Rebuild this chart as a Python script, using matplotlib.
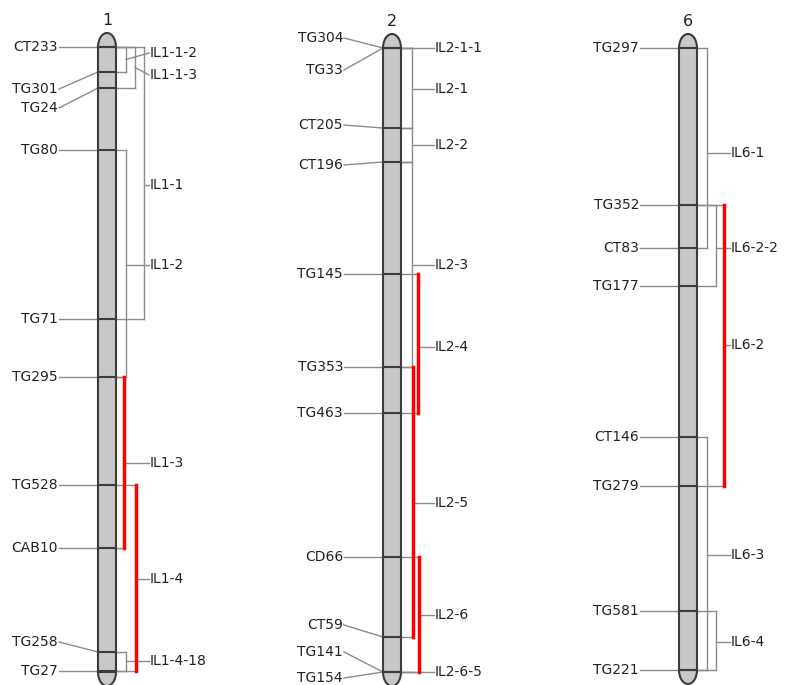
import matplotlib.pyplot as plt
from matplotlib.patches import Rectangle, Ellipse

# chromosome columns
chrom_names = ['1', '2', '6']
chrom_x = [107, 392, 688]
chrom_top = [47, 48, 48]
chrom_bottom = [672, 672, 670]

# markers: name, map position, where the label sits
chr1_markers = ['CT233', 'TG301', 'TG24', 'TG80', 'TG71', 'TG295', 'TG528', 'CAB10', 'TG258', 'TG27']
chr1_pos = [47, 72, 88, 150, 319, 377, 485, 548, 652, 671]
chr1_label_y = [47, 89, 108, 150, 319, 377, 485, 548, 642, 671]

chr2_markers = ['TG304', 'TG33', 'CT205', 'CT196', 'TG145', 'TG353', 'TG463', 'CD66', 'CT59', 'TG141', 'TG154']
chr2_pos = [48, 48, 128, 162, 274, 367, 413, 557, 637, 672, 672]
chr2_label_y = [38, 70, 125, 165, 274, 367, 413, 557, 625, 652, 678]

chr6_markers = ['TG297', 'TG352', 'CT83', 'TG177', 'CT146', 'TG279', 'TG581', 'TG221']
chr6_pos = [48, 205, 248, 286, 437, 486, 611, 670]
chr6_label_y = [48, 205, 248, 286, 437, 486, 611, 670]

# introgression lines: name, first marker, last marker, highlighted
chr1_ils = ['IL1-1-2', 'IL1-1-3', 'IL1-1', 'IL1-2', 'IL1-3', 'IL1-4', 'IL1-4-18']
chr1_il_span = [('CT233', 'TG301'), ('CT233', 'TG24'), ('CT233', 'TG71'), ('TG80', 'TG295'),
                ('TG295', 'CAB10'), ('TG528', 'TG27'), ('TG258', 'TG27')]
chr1_il_red = [False, False, False, False, True, True, False]
chr1_il_label_y = [53, 75, 185, 265, 463, 579, 661]

chr2_ils = ['IL2-1-1', 'IL2-1', 'IL2-2', 'IL2-3', 'IL2-4', 'IL2-5', 'IL2-6', 'IL2-6-5']
chr2_il_span = [('TG304', 'TG33'), ('TG304', 'CT205'), ('CT205', 'CT196'), ('CT196', 'TG353'),
                ('TG145', 'TG463'), ('TG353', 'CT59'), ('CD66', 'TG154'), ('TG141', 'TG154')]
chr2_il_red = [False, False, False, False, True, True, True, False]
chr2_il_label_y = [48, 89, 145, 265, 347, 503, 615, 672]

chr6_ils = ['IL6-1', 'IL6-2-2', 'IL6-2', 'IL6-3', 'IL6-4']
chr6_il_span = [('TG297', 'CT83'), ('TG352', 'TG177'), ('TG352', 'TG279'),
                ('CT146', 'TG221'), ('TG581', 'TG221')]
chr6_il_red = [False, False, True, False, False]
chr6_il_label_y = [153, 248, 345, 555, 642]

# layout: bracket offsets from the right edge of each chromosome
chr1_lane = [10, 19, 28, 10, 8, 20, 10]
chr2_lane = [11, 11, 11, 11, 17, 12, 18, 11]
chr6_lane = [10, 19, 27, 10, 19]
# labels squeezed at the top of chr 1 get a slanted leader from the bracket middle
slanted = {'IL1-1-2', 'IL1-1-3'}

chroms = [
    (chr1_markers, chr1_pos, chr1_label_y, chr1_ils, chr1_il_span, chr1_il_red, chr1_il_label_y, chr1_lane),
    (chr2_markers, chr2_pos, chr2_label_y, chr2_ils, chr2_il_span, chr2_il_red, chr2_il_label_y, chr2_lane),
    (chr6_markers, chr6_pos, chr6_label_y, chr6_ils, chr6_il_span, chr6_il_red, chr6_il_label_y, chr6_lane),
]

half_w = 9
outline = '#3c3c3c'
lead = '#8c8c8c'
fs = 10

fig = plt.figure(figsize=(7.96, 6.85), dpi=100)
ax = fig.add_axes([0, 0, 1, 1])
ax.set_xlim(0, 796)
ax.set_ylim(685, 0)
ax.axis('off')

for i, (markers, pos, label_y, ils, spans, reds, il_label_y, lanes) in enumerate(chroms):
    cx = chrom_x[i]
    left, right = cx - half_w, cx + half_w
    top, bot = chrom_top[i], chrom_bottom[i]

    # body with rounded caps
    for y in (top, bot):
        ax.add_patch(Ellipse((cx, y), 2 * half_w, 28, facecolor='#c8c8c8',
                             edgecolor=outline, lw=1.5, zorder=2))
    ax.add_patch(Rectangle((left, top), 2 * half_w, bot - top, facecolor='#c8c8c8',
                           edgecolor=outline, lw=1.5, zorder=3))
    ax.text(cx, top - 27, chrom_names[i], ha='center', va='center', fontsize=11.5, color='#222')

    # markers
    lab_x = left - 40
    where = dict(zip(markers, pos))
    for name, p, ly in zip(markers, pos, label_y):
        ax.plot([lab_x + 1, left], [ly, p], color=lead, lw=1, zorder=1)
        ax.plot([left, right], [p, p], color=outline, lw=1.5, zorder=4)
        ax.text(lab_x, ly, name, ha='right', va='center', fontsize=fs, color='#222')

    # IL brackets
    il_x = right + 34
    for name, (a, b), red, ly, lane in zip(ils, spans, reds, il_label_y, lanes):
        y0, y1 = where[a], where[b]
        bx = right + lane
        ax.plot([right, bx], [y0, y0], color=lead, lw=1, zorder=1)
        ax.plot([right, bx], [y1, y1], color=lead, lw=1, zorder=1)
        if red:
            ax.plot([bx, bx], [y0, y1], color='#ff0000', lw=2.5, zorder=5)
        else:
            ax.plot([bx, bx], [y0, y1], color=lead, lw=1, zorder=1)
        start_y = (y0 + y1) / 2 if name in slanted else ly
        ax.plot([bx, il_x - 1], [start_y, ly], color=lead, lw=1, zorder=1)
        ax.text(il_x, ly, name, ha='left', va='center', fontsize=fs, color='#222')

fig.savefig('out.png', dpi=100)
